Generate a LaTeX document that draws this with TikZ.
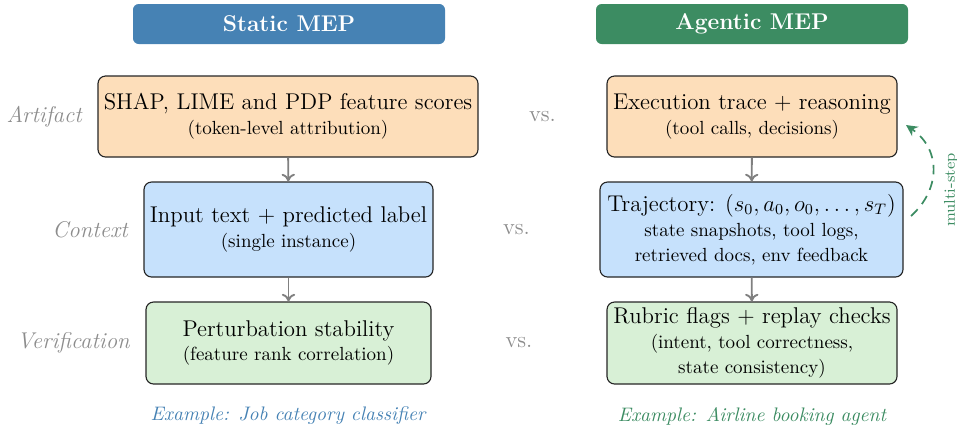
\documentclass[tikz,border=0pt]{standalone}
\usetikzlibrary{arrows.meta,calc}
\definecolor{hdrblue}{RGB}{70,130,180}
\definecolor{hdrgreen}{RGB}{60,140,98}
\definecolor{artfill}{RGB}{253,222,186}
\definecolor{ctxfill}{RGB}{198,225,252}
\definecolor{verfill}{RGB}{216,240,214}
\definecolor{lblgray}{RGB}{140,140,140}
\definecolor{arrgray}{RGB}{128,128,128}
\newcommand\pxu{0.5263pt}
\begin{document}
\begin{tikzpicture}[x=\pxu,y=-\pxu,
  header/.style={rounded corners=3pt, text=white, font=\large\bfseries, inner sep=0pt,
    minimum width=312*\pxu, minimum height=40*\pxu},
  stagebox/.style={draw=black!85, line width=0.6pt, rounded corners=4pt, align=center,
    inner sep=0pt, font=\large},
  rowlabel/.style={text=lblgray, font=\large\itshape, anchor=east},
  vslabel/.style={text=lblgray, font=\large},
  flow/.style={draw=arrgray, line width=1pt, -{To[length=4pt,width=7pt]}},
  loopback/.style={draw=hdrgreen, line width=0.9pt, dash pattern=on 5pt off 3.5pt, -{Stealth[length=6pt,width=6pt]}},
]
\useasboundingbox (0,0) rectangle (957,430);

% headers
\node[header, fill=hdrblue] (hs) at (289,24) {Static MEP};
\node[header, fill=hdrgreen] (ha) at (752,24) {Agentic MEP};

% left column
\node[stagebox, fill=artfill, minimum width=380*\pxu, minimum height=81*\pxu] (la) at (288,116.5)
  {SHAP, LIME and PDP feature scores\\[-1pt] {\normalsize (token-level attribution)}};
\node[stagebox, fill=ctxfill, minimum width=289*\pxu, minimum height=95*\pxu] (lc) at (288.5,229.5)
  {Input text + predicted label\\[-1pt] {\normalsize (single instance)}};
\node[stagebox, fill=verfill, minimum width=285*\pxu, minimum height=82*\pxu] (lv) at (288.5,343)
  {Perturbation stability\\[-1pt] {\normalsize (feature rank correlation)}};

% right column
\node[stagebox, fill=artfill, minimum width=290*\pxu, minimum height=81*\pxu] (ra) at (752,116.5)
  {Execution trace + reasoning\\[-1pt] {\normalsize (tool calls, decisions)}};
\node[stagebox, fill=ctxfill, minimum width=303*\pxu, minimum height=95*\pxu] (rc) at (751.5,229.5)
  {Trajectory: $(s_0, a_0, o_0, \ldots, s_T)$\\[-0.8pt] {\normalsize state snapshots, tool logs,}\\[-0.8pt] {\normalsize retrieved docs, env feedback}};
\node[stagebox, fill=verfill, minimum width=290*\pxu, minimum height=82*\pxu] (rv) at (752,343)
  {Rubric flags + replay checks\\[-0.8pt] {\normalsize (intent, tool correctness,}\\[-0.8pt] {\normalsize state consistency)}};

% row labels
\node[rowlabel] (l1) at ([xshift=-9*\pxu]la.west) {Artifact};
\node[rowlabel] (l2) at ([xshift=-9*\pxu]lc.west) {Context};
\node[rowlabel] (l3) at ([xshift=-9*\pxu]lv.west) {Verification};

% vs labels
\node[vslabel] (v1) at ($(la.east)!0.5!(ra.west)$) {vs.};
\node[vslabel] (v2) at ($(lc.east)!0.5!(rc.west)$) {vs.};
\node[vslabel] (v3) at ($(lv.east)!0.5!(rv.west)$) {vs.};

% flow arrows
\draw[flow] (la) -- (lc);
\draw[flow] (lc) -- (lv);
\draw[flow] (ra) -- (rc);
\draw[flow] (rc) -- (rv);

% loop back
\coordinate (lbs) at (911,216);
\coordinate (lbe) at (906,125);
\draw[loopback] (lbs) .. controls (940,190) and (942,150) .. (lbe);
\node[text=hdrgreen, font=\fontsize{8.2}{9}\selectfont, rotate=90] (ms) at (951,190) {multi-step};

% examples
\node[text=hdrblue, font=\fontsize{10.3}{12}\selectfont\itshape] (ex1) at (288,416) {Example: Job category classifier};
\node[text=hdrgreen, font=\fontsize{10.3}{12}\selectfont\itshape] (ex2) at (752,416) {Example: Airline booking agent};
\end{tikzpicture}
\end{document}
